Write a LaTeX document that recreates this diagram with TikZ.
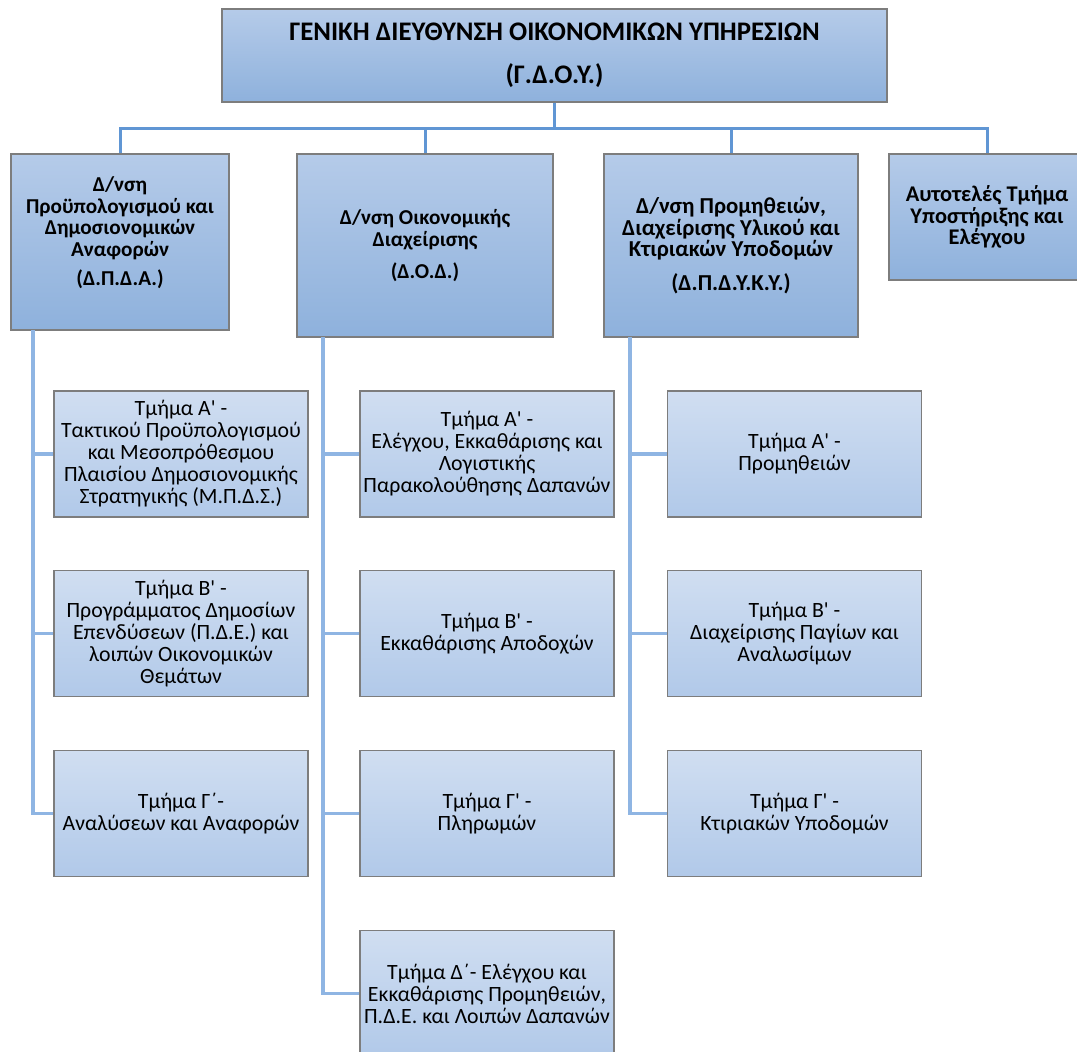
\documentclass[tikz,border=0pt]{standalone}
\usepackage{fontspec}
\setmainfont{Carlito}
\usepackage{tikz}
\definecolor{dirtop}{RGB}{181,203,233}
\definecolor{dirbot}{RGB}{142,177,220}
\definecolor{secttop}{RGB}{208,222,241}
\definecolor{sectbot}{RGB}{177,201,233}
\definecolor{busblue}{RGB}{96,150,212}
\definecolor{spineblue}{RGB}{143,181,227}
\definecolor{edgegray}{RGB}{125,125,125}
\newcommand{\apos}{\textquotesingle}

\begin{document}
\begin{tikzpicture}[x=0.5pt,y=-0.5pt,
  dirbox/.style={draw=edgegray,line width=0.6pt,top color=dirtop,bottom color=dirbot,
    align=center,font=\fontsize{10.6}{10.8}\selectfont\bfseries,inner sep=0pt},
  sectbox/.style={draw=edgegray,line width=0.6pt,top color=secttop,bottom color=sectbot,
    align=center,font=\fontsize{10.9}{11}\selectfont,inner sep=0pt,
    minimum width=127pt,minimum height=63pt},
  bus/.style={draw=busblue,line width=1.5pt},
  spine/.style={draw=spineblue,line width=1.8pt}]
\useasboundingbox (0,0) rectangle (1077,1051);
\clip (0,0) rectangle (1077,1051);

\coordinate (a s) at (33,330);
\coordinate (b s) at (323,337);
\coordinate (c s) at (630,337);

% General directorate
\node[dirbox,minimum width=332.5pt,minimum height=46.5pt,font=\fontsize{13.4}{13}\selectfont\bfseries]
  (gdoy) at (554.5,55.5) {ΓΕΝΙΚΗ ΔΙΕΥΘΥΝΣΗ ΟΙΚΟΝΟΜΙΚΩΝ ΥΠΗΡΕΣΙΩΝ\\[8.5pt](Γ.Δ.Ο.Υ.)};

% Directorates
\node[dirbox,minimum width=109pt,minimum height=88pt] (dpda) at (120,242)
  {Δ/νση\\Προϋπολογισμού και\\Δημοσιονομικών\\Αναφορών\\[4pt](Δ.Π.Δ.Α.)\\[0pt]\mbox{}};
\node[dirbox,minimum width=128pt,minimum height=91.5pt] (dod) at (425,245.5)
  {Δ/νση Οικονομικής\\Διαχείρισης\\[5pt](Δ.Ο.Δ.)};
\node[dirbox,minimum width=127pt,minimum height=91.5pt,font=\fontsize{11.4}{10.8}\selectfont\bfseries]
  (dpdyky) at (731,245.5)
  {Δ/νση Προμηθειών,\\Διαχείρισης Υλικού και\\Κτιριακών Υποδομών\\[6pt](Δ.Π.Δ.Υ.Κ.Υ.)};
\node[dirbox,minimum width=98pt,minimum height=63pt,font=\fontsize{11.2}{10.8}\selectfont\bfseries]
  (atye) at (987,217)
  {Αυτοτελές Τμήμα\\Υποστήριξης και\\Ελέγχου};

% Sections of Δ.Π.Δ.Α.
\node[sectbox] (a1) at (181,454)
  {Τμήμα Α\apos{} -\\Τακτικού Προϋπολογισμού\\και Μεσοπρόθεσμου\\Πλαισίου Δημοσιονομικής\\Στρατηγικής (Μ.Π.Δ.Σ.)};
\node[sectbox] (a2) at (181,633.5)
  {Τμήμα Β\apos{} -\\Προγράμματος Δημοσίων\\Επενδύσεων (Π.Δ.Ε.) και\\λοιπών Οικονομικών\\Θεμάτων};
\node[sectbox] (a3) at (181,813.5)
  {Τμήμα Γ΄-\\Αναλύσεων και Αναφορών};

% Sections of Δ.Ο.Δ.
\node[sectbox] (b1) at (487,454)
  {Τμήμα Α\apos{} -\\Ελέγχου, Εκκαθάρισης και\\Λογιστικής\\Παρακολούθησης Δαπανών};
\node[sectbox] (b2) at (487,633.5)
  {Τμήμα Β\apos{} -\\Εκκαθάρισης Αποδοχών};
\node[sectbox] (b3) at (487,813.5)
  {Τμήμα Γ\apos{} -\\Πληρωμών};
\node[sectbox] (b4) at (487,993.5)
  {Τμήμα Δ΄- Ελέγχου και\\Εκκαθάρισης Προμηθειών,\\Π.Δ.Ε. και Λοιπών Δαπανών};

% Sections of Δ.Π.Δ.Υ.Κ.Υ.
\node[sectbox] (c1) at (794.5,454)
  {Τμήμα Α\apos{} -\\Προμηθειών};
\node[sectbox] (c2) at (794.5,633.5)
  {Τμήμα Β\apos{} -\\Διαχείρισης Παγίων και\\Αναλωσίμων};
\node[sectbox] (c3) at (794.5,813.5)
  {Τμήμα Γ\apos{} -\\Κτιριακών Υποδομών};

% Bus from the general directorate
\foreach \d in {dpda,dod,dpdyky,atye}
  \draw[bus] (gdoy.south) -- ++(0,26) -| (\d.north);

% Spines to the sections
\foreach \s in {a1,a2,a3}
  \draw[spine] (a s) |- (\s.west);
\foreach \s in {b1,b2,b3,b4}
  \draw[spine] (b s) |- (\s.west);
\foreach \s in {c1,c2,c3}
  \draw[spine] (c s) |- (\s.west);
\end{tikzpicture}
\end{document}
